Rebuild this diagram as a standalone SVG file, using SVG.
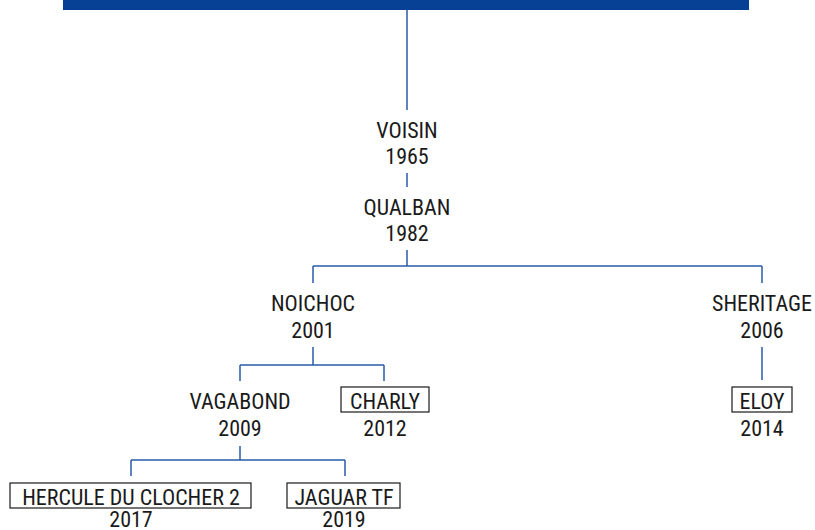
<svg xmlns="http://www.w3.org/2000/svg" width="815" height="530" viewBox="0 0 815 530">
<style>
text{font-family:"Roboto Condensed",Roboto,"Liberation Sans",sans-serif;font-size:22px;fill:#1a1a1a;text-anchor:middle;font-stretch:condensed}
.c{stroke:#2a5caa;stroke-width:1.5;fill:none}
.b{fill:#fff;stroke:#1a1a1a;stroke-width:1.2}
</style>
<rect x="63" y="0" width="686" height="10" fill="#064196"/>
<g id="connectors">
<path class="c" d="M407 10V110M407 173V187M407 250V266M313 266H762M313 266V283M762 266V283M313 347V365M240 365H384M240 365V381M384 365V381M762 347V380M240 446V460M131 460H345M131 460V476M345 460V476"/>
</g>
<g id="voisin"><text x="407" y="138">VOISIN</text><text x="407" y="164">1965</text></g>
<g id="qualban"><text x="407" y="215">QUALBAN</text><text x="407" y="241">1982</text></g>
<g id="noichoc"><text x="313" y="311">NOICHOC</text><text x="313" y="338">2001</text></g>
<g id="sheritage"><text x="762" y="311">SHERITAGE</text><text x="762" y="338">2006</text></g>
<g id="vagabond"><text x="240" y="409">VAGABOND</text><text x="240" y="436">2009</text></g>
<g id="charly"><rect class="b" x="341" y="387" width="88" height="25"/><text x="385" y="409">CHARLY</text><text x="385" y="436">2012</text></g>
<g id="eloy"><rect class="b" x="732" y="387" width="60" height="25"/><text x="762" y="409">ELOY</text><text x="762" y="436">2014</text></g>
<g id="hercule"><rect class="b" x="10" y="483" width="241" height="25"/><text x="131" y="505">HERCULE DU CLOCHER 2</text><text x="131" y="527">2017</text></g>
<g id="jaguar"><rect class="b" x="287" y="483" width="113" height="25"/><text x="344" y="505">JAGUAR TF</text><text x="344" y="527">2019</text></g>
</svg>
